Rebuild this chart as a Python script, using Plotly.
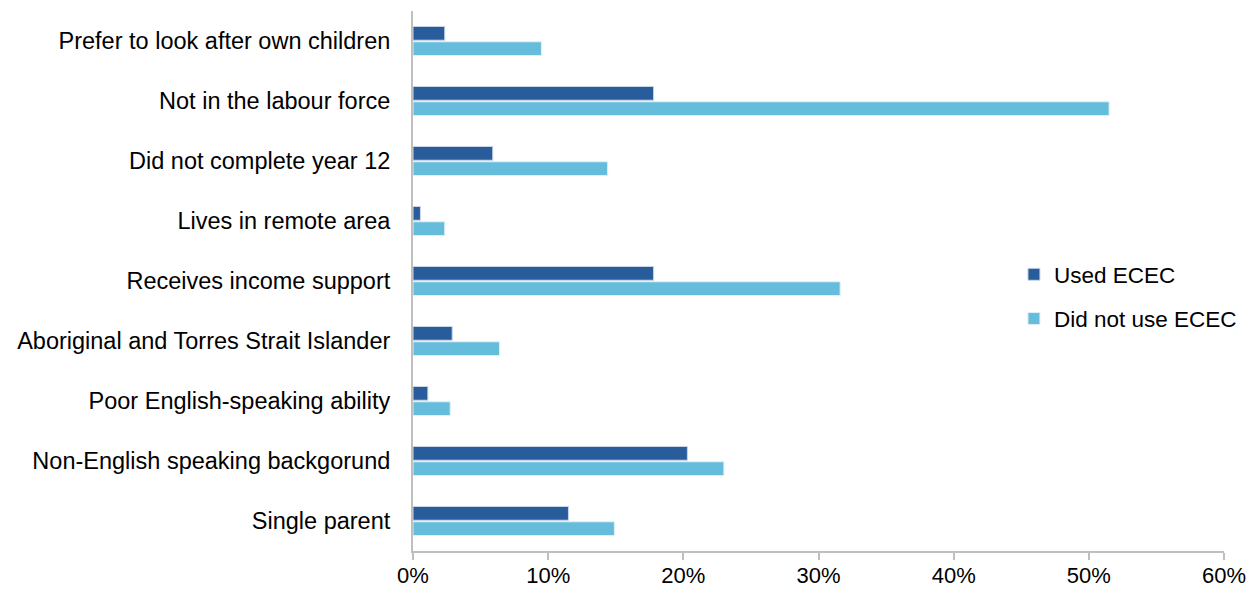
import plotly.graph_objects as go

# Categories listed bottom-to-top (Plotly draws the first category at the bottom)
categories = [
    "Single parent",
    "Non-English speaking backgorund",
    "Poor English-speaking ability",
    "Aboriginal and Torres Strait Islander",
    "Receives income support",
    "Lives in remote area",
    "Did not complete year 12",
    "Not in the labour force",
    "Prefer to look after own children",
]

# Share of children (%) with each characteristic
used_ecec = [11.5, 20.3, 1.1, 2.9, 17.8, 0.55, 5.9, 17.8, 2.35]
did_not_use_ecec = [14.9, 23.0, 2.75, 6.4, 31.6, 2.35, 14.4, 51.5, 9.5]

tick_values = [0, 10, 20, 30, 40, 50, 60]
tick_labels = ["0%", "10%", "20%", "30%", "40%", "50%", "60%"]

DARK = "#285C9B"
LIGHT = "#66BCDB"
FONT = "Arial, Liberation Sans, sans-serif"
FS = 23.5

fig = go.Figure()
# The first trace sits at the bottom of each group, so "Did not use" goes first
fig.add_trace(go.Bar(
    y=categories, x=did_not_use_ecec, orientation="h", name="Did not use ECEC",
    marker=dict(color=LIGHT, line=dict(color="#DDF0F8", width=1)),
    legendrank=2, legendgroup="b",
))
fig.add_trace(go.Bar(
    y=categories, x=used_ecec, orientation="h", name="Used ECEC",
    marker=dict(color=DARK, line=dict(color="#C9D6E8", width=1)),
    legendrank=1, legendgroup="a",
))

fig.update_layout(
    width=1253, height=589,
    margin=dict(l=413, r=29, t=11, b=38),
    paper_bgcolor="white", plot_bgcolor="white",
    barmode="group", bargap=0.49, bargroupgap=0.1,
    font=dict(family=FONT, size=FS, color="black"),
    legend=dict(
        x=0.741, y=0.471, xanchor="left", yanchor="middle",
        font=dict(family=FONT, size=22.5, color="black"),
        traceorder="grouped", tracegroupgap=12,
        itemwidth=30, bgcolor="rgba(0,0,0,0)",
    ),
    showlegend=True,
)
fig.update_xaxes(
    range=[0, 60], tickvals=tick_values, ticktext=tick_labels,
    showgrid=False, zeroline=False, automargin=False,
    showline=True, linecolor="#BFBFBF", linewidth=2,
    ticks="outside", ticklen=7, tickcolor="#BFBFBF", tickwidth=2,
    tickfont=dict(family=FONT, size=22, color="black"),
    ticklabelstandoff=-3,
    fixedrange=True,
)
fig.update_yaxes(
    showgrid=False, zeroline=False, automargin=False,
    showline=True, linecolor="#BFBFBF", linewidth=2,
    ticks="", ticklabelstandoff=16,
    tickfont=dict(family=FONT, size=FS, color="black"),
    fixedrange=True,
)

fig.write_html("out.html")
